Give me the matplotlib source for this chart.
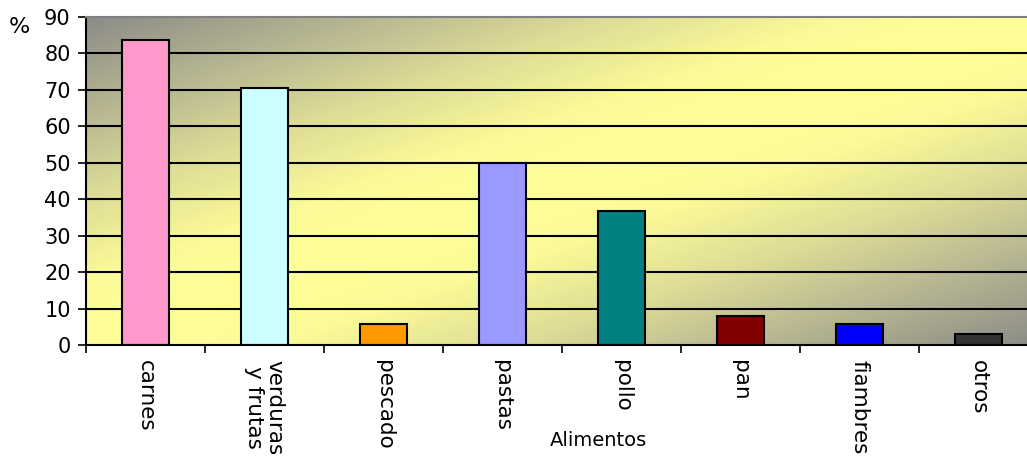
import numpy as np
import matplotlib
matplotlib.use("Agg")
import matplotlib.pyplot as plt
from matplotlib.colors import LinearSegmentedColormap

# ==========================================
# DATA
# ==========================================
categories = ["carnes", "verduras\ny frutas", "pescado", "pastas",
              "pollo", "pan", "fiambres", "otros"]
values = [83.7, 70.6, 5.8, 50.0, 36.8, 8.0, 5.8, 3.1]
bar_colors = ["#FF99CC", "#CCFFFF", "#FF9900", "#9999FF",
              "#008080", "#800000", "#0000FF", "#333333"]
y_ticks = list(range(0, 100, 10))

# ==========================================
# FIGURE
# ==========================================
plt.rcParams['font.family'] = ['DejaVu Sans']
W, H = 1027, 457
fig = plt.figure(figsize=(W / 100, H / 100), dpi=100)
fig.patch.set_facecolor("white")

left, right, top, bottom = 86, 1038, 17, 345
ax = fig.add_axes([left / W, 1 - bottom / H, (right - left) / W, (bottom - top) / H])

n = len(categories)
ax.set_xlim(0, n)
ax.set_ylim(0, 90)

# diagonal gradient: gray corners (top-left, bottom-right), yellow along the other diagonal
gx, gy = np.meshgrid(np.linspace(0, 1, 400), np.linspace(1, 0, 200))
d = np.abs(gx - gy)
bg_colors = [(0.0, "#FFFF99"), (0.2, "#FAFA98"), (0.45, "#DEDC96"),
             (0.7, "#B8B792"), (1.0, "#8C8C88")]
cmap = LinearSegmentedColormap.from_list("bg", bg_colors)
ax.imshow(d, cmap=cmap, vmin=0, vmax=1, extent=[0, n, 0, 90],
          aspect="auto", zorder=0, interpolation="bilinear")

# grid
for yv in y_ticks[1:-1]:
    ax.axhline(yv, color="black", lw=1.5, zorder=1)

x = np.arange(n) + 0.5
ax.bar(x, values, width=0.4, color=bar_colors, edgecolor="black",
       linewidth=1.5, zorder=2)

# spines
for s in ["top", "right"]:
    ax.spines[s].set_color("#808080")
    ax.spines[s].set_linewidth(1.5)
ax.spines["left"].set_linewidth(1.5)
ax.spines["bottom"].set_linewidth(1.5)

ax.set_yticks(y_ticks)
ax.tick_params(axis="y", direction="out", length=6, width=1.2,
               labelsize=15, pad=5)

ax.set_xticks(np.arange(n + 1))
ax.set_xticklabels([])
ax.tick_params(axis="x", which="major", direction="out", length=6, width=1.2)
ax.set_xticks(x, minor=True)
ax.set_xticklabels(categories, minor=True, rotation=-90, fontsize=15.5,
                   linespacing=1.0)
ax.tick_params(axis="x", which="minor", length=0, pad=11)

fig.text(19 / W, 1 - 27 / H, "%", fontsize=16, ha="center", va="center")
fig.text(598 / W, 1 - 441 / H, "Alimentos", fontsize=14, ha="center", va="center")

fig.savefig("out.png", dpi=100)
